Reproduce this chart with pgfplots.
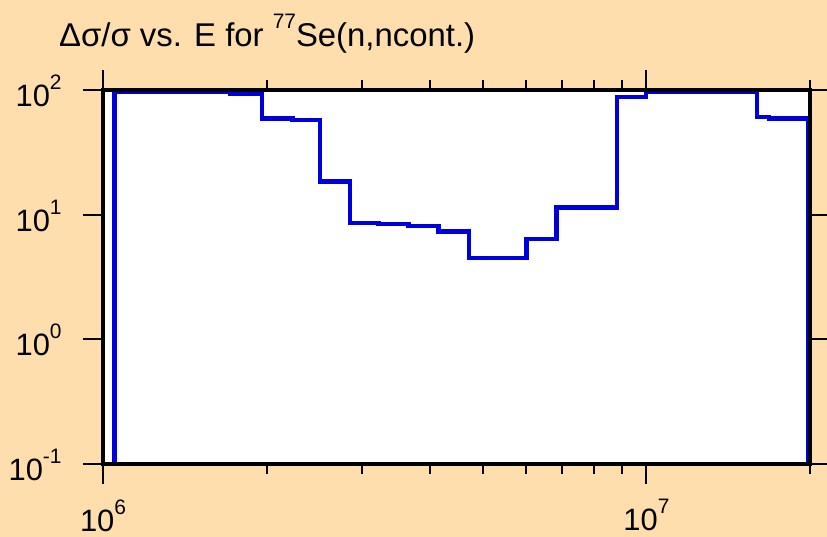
\documentclass[border=0pt]{standalone}
\usepackage{fontspec}
\setmainfont{Liberation Sans}
\usepackage{pgfplots}
\pgfplotsset{compat=1.18}
\usepackage{pgfplotstable}

\definecolor{bgtan}{RGB}{255,222,173}
\definecolor{stepblue}{RGB}{0,0,220}

\newcommand\sups[1]{\raisebox{0.55em}{\fontsize{21}{21}\selectfont #1}}

% energy (eV), relative uncertainty (%)
\pgfplotstableread{
E        dsig
1.05e6   0.01
1.05e6   97
1.714e6  94
1.96e6   59.3
2.23e6   57.5
2.51e6   18.4
2.85e6   8.6
3.21e6   8.4
3.65e6   8.1
4.14e6   7.3
4.71e6   4.5
6.02e6   6.4
6.83e6   11.4
8.82e6   88
9.97e6   97
1.597e7  61
1.68e7   59.3
1.985e7  59.3
1.985e7  0.01
}\stepdata

\begin{document}
\begin{tikzpicture}
\fill[bgtan] (0,0) rectangle (827bp,537bp);
\useasboundingbox (0,0) rectangle (827bp,537bp);

\node[anchor=base west, inner sep=0pt, font=\fontsize{33}{36}\selectfont]
  at (59bp,490bp) {Δσ/σ vs. E for \sups{77}Se(n,ncont.)};

\begin{axis}[
  at={(103bp,73bp)}, anchor=south west,
  scale only axis, width=707bp, height=374bp,
  xmode=log, ymode=log,
  xmin=1e6, xmax=2e7, ymin=0.1, ymax=100,
  axis background/.style={fill=white},
  axis on top,
  axis line style={line width=4.5bp, black},
  tick align=outside,
  major tick length=20bp, minor tick length=10bp,
  every tick/.style={black, line width=2bp},
  xtick={1e6,1e7},
  xticklabels={10\sups{6}, 10\sups{7}},
  minor xtick={2e6,3e6,4e6,5e6,6e6,7e6,8e6,9e6,2e7},
  ytick={0.1,1,10,100},
  yticklabels={10\sups{-1}, 10\sups{0}, 10\sups{1}, 10\sups{2}},
  yminorticks=false,
  tick label style={font=\fontsize{31}{34}\selectfont},
  xticklabel style={yshift=-12bp},
  yticklabel style={xshift=-18bp, yshift=-1bp},
]
\addplot[stepblue, line width=4.5bp, const plot mark left] table[x=E, y=dsig] {\stepdata};
\end{axis}
\end{tikzpicture}
\end{document}
